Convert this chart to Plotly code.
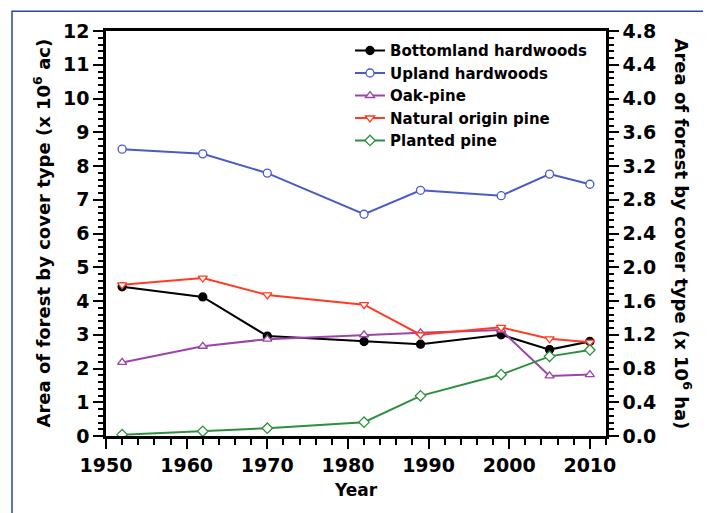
import plotly.graph_objects as go

# survey years
years = [1952, 1962, 1970, 1982, 1989, 1999, 2005, 2010]

# area in million acres
bottomland = [4.42, 4.12, 2.96, 2.80, 2.72, 3.00, 2.56, 2.80]
upland = [8.50, 8.36, 7.79, 6.57, 7.28, 7.12, 7.76, 7.46]
oak_pine = [2.18, 2.66, 2.87, 3.00, 3.06, 3.14, 1.78, 1.82]
natural_pine = [4.48, 4.68, 4.18, 3.89, 3.00, 3.22, 2.88, 2.78]
planted_pine = [0.04, 0.14, 0.23, 0.41, 1.19, 1.82, 2.36, 2.55]

series = [
    ("Bottomland hardwoods", bottomland, "#000000", "circle"),
    ("Upland hardwoods", upland, "#4a5ac8", "circle"),
    ("Oak-pine", oak_pine, "#9b45a8", "triangle-up"),
    ("Natural origin pine", natural_pine, "#ff3b22", "triangle-down"),
    ("Planted pine", planted_pine, "#2f8f3f", "diamond"),
]

FONT = "DejaVu Sans"

fig = go.Figure()
for name, vals, color, symbol in series:
    fill = color if name == "Bottomland hardwoods" else "white"
    fig.add_trace(go.Scatter(
        x=years, y=vals, name=name, mode="lines+markers",
        line=dict(color=color, width=2),
        marker=dict(symbol=symbol, size=8, color=fill,
                    line=dict(color=color, width=1.3)),
    ))

# empty trace so the hectare axis is drawn
fig.add_trace(go.Scatter(x=[], y=[], yaxis="y2", showlegend=False))

tickfont = dict(family=FONT, size=19, color="black", weight="bold")
axis_common = dict(
    showgrid=False, zeroline=False, showline=True, linecolor="black",
    linewidth=2.5, ticks="outside", ticklen=10, tickwidth=2,
    tickcolor="black", tickfont=tickfont,
)

# page body adds an 8px offset, margins are shifted to make up for it
fig.update_layout(
    width=711, height=513,
    margin=dict(l=98, r=113, t=21, b=85),
    paper_bgcolor="white", plot_bgcolor="white",
    font=dict(family=FONT, color="black"),
    xaxis=dict(range=[1950, 2012], dtick=10, tick0=1950, mirror=True,
               minor=dict(dtick=2, ticklen=6, tickwidth=2, ticks="outside",
                          tickcolor="black"),
               **axis_common),
    yaxis=dict(range=[0, 12], dtick=1,
               minor=dict(dtick=0.2, ticklen=5, tickwidth=1.5,
                          ticks="outside", tickcolor="black"),
               **axis_common),
    yaxis2=dict(range=[0, 4.8], dtick=0.4, tickformat=".1f", overlaying="y",
                side="right",
                minor=dict(dtick=0.08, ticklen=5, tickwidth=1.5,
                           ticks="outside", tickcolor="black"),
                **axis_common),
    legend=dict(x=0.488, y=0.992, xanchor="left", yanchor="top",
                bgcolor="rgba(0,0,0,0)", tracegroupgap=0,
                font=dict(family=FONT, size=15, color="black", weight="bold")),
    showlegend=True,
)

titlefont = dict(family=FONT, size=18, color="black", weight="bold")
fig.add_annotation(text="Area of forest by cover type (x 10<sup>6</sup> ac)",
                   xref="paper", yref="paper", x=-0.128, y=0.5,
                   xanchor="center", yanchor="middle",
                   textangle=-90, showarrow=False, font=titlefont)
fig.add_annotation(text="Area of forest by cover type (x 10<sup>6</sup> ha)",
                   xref="paper", yref="paper", x=1.154, y=0.5,
                   xanchor="center", yanchor="middle",
                   textangle=90, showarrow=False, font=titlefont)
fig.add_annotation(text="Year", xref="paper", yref="paper", x=0.5, y=-0.133,
                   xanchor="center", yanchor="middle",
                   showarrow=False,
                   font=dict(family=FONT, size=17, color="black", weight="bold"))

# blue frame around the figure
fig.add_shape(type="rect", xref="paper", yref="paper",
              x0=-0.188, x1=1.204, y0=-0.4, y1=1.049,
              line=dict(color="#2b45a8", width=1.5))

fig.write_html("out.html")
